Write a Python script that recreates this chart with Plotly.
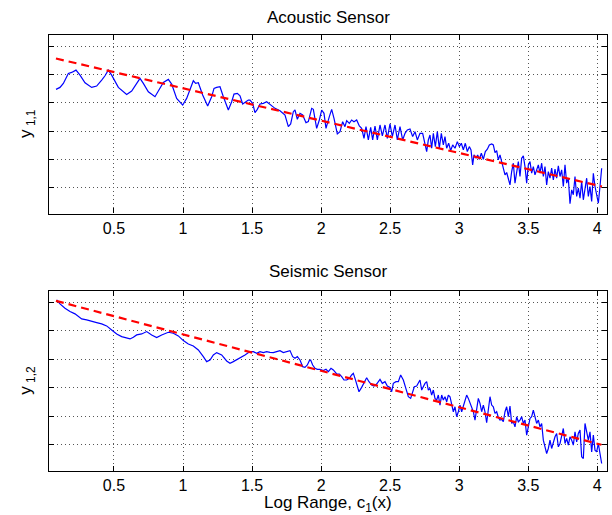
import plotly.graph_objects as go

# ---------------- data ----------------
# Acoustic sensor: log range vs. level (arbitrary units; the y axis is unlabeled)
top_x = [0.0804, 0.1093, 0.1335, 0.1697, 0.1938, 0.2252, 0.2542, 0.2904, 0.3386, 0.3748,
         0.4111, 0.4352, 0.4593, 0.4835, 0.5317, 0.5921, 0.6283, 0.6645, 0.6886, 0.7128,
         0.7490, 0.7972, 0.8335, 0.8576, 0.8938, 0.9179, 0.9541, 0.9976, 1.0265, 1.0555,
         1.0748, 1.0917, 1.1110, 1.1424, 1.1786, 1.2076, 1.2245, 1.2438, 1.2679, 1.2921,
         1.3283, 1.3524, 1.3693, 1.3934, 1.4128,
         1.4320, 1.4489, 1.4731, 1.4851, 1.5044, 1.5213, 1.5382, 1.5575, 1.5817, 1.6058,
         1.6300, 1.6662, 1.7024, 1.7386, 1.7627, 1.7796, 1.7989, 1.8110, 1.8279, 1.8472,
         1.8665, 1.8906, 1.9075, 1.9317, 1.9437, 1.9679, 1.9872, 2.0041, 2.0210, 2.0355,
         2.0596, 2.0765, 2.0934, 2.1175, 2.1368, 2.1561, 2.1730, 2.1851, 2.2044, 2.2213,
         2.2382, 2.2575, 2.2768, 2.2937, 2.3106, 2.3251, 2.3420, 2.3589, 2.3734, 2.3903,
         2.4072, 2.4265, 2.4434, 2.4627, 2.4796, 2.4989, 2.5158, 2.5351, 2.5520, 2.5713,
         2.5906, 2.6075, 2.6244, 2.6437, 2.6630, 2.6799, 2.6968, 2.7161,
         2.7354, 2.7523, 2.7644, 2.7765, 2.7885, 2.8006, 2.8127, 2.8272, 2.8416, 2.8561,
         2.8706, 2.8851, 2.8971, 2.9092, 2.9237, 2.9382, 2.9527, 2.9696, 2.9865, 3.0009,
         3.0154, 3.0299, 3.0444, 3.0589, 3.0733, 3.0854, 3.0975, 3.1071, 3.1216, 3.1337,
         3.1458, 3.1602, 3.1747, 3.1892, 3.2037, 3.2182, 3.2351, 3.2471, 3.2592, 3.2713,
         3.2833, 3.2954, 3.3075, 3.3195, 3.3316, 3.3437, 3.3558, 3.3678, 3.3799, 3.3920,
         3.4040, 3.4161, 3.4282, 3.4402, 3.4523, 3.4644, 3.4764, 3.4885, 3.5006, 3.5126,
         3.5247, 3.5368, 3.5488, 3.5609, 3.5730, 3.5851, 3.5971, 3.6092, 3.6213, 3.6333,
         3.6454, 3.6575, 3.6695, 3.6816, 3.6937, 3.7057, 3.7178, 3.7299, 3.7419, 3.7540,
         3.7661, 3.7781, 3.7902, 3.8023, 3.8144, 3.8264, 3.8385, 3.8506, 3.8626, 3.8747,
         3.8868, 3.8988, 3.9109, 3.9230, 3.9350, 3.9471, 3.9592, 3.9713, 3.9833, 3.9954,
         4.0075, 4.0195, 4.0316]
top_y = [3.72, 3.78, 3.90, 4.20, 4.23, 4.30, 4.15, 3.92, 3.78, 3.82,
         4.00, 4.13, 4.30, 4.15, 3.78, 3.57, 3.67, 3.90, 4.05, 3.90,
         3.65, 3.50, 3.75, 3.93, 4.02, 3.88, 3.45, 3.25, 3.45, 3.80,
         3.98, 3.90, 3.92, 3.55, 3.22, 3.50, 3.75, 3.78, 3.80, 3.50,
         3.10, 3.35, 3.58, 3.60, 3.53,
         3.28, 3.32, 3.40, 3.40, 3.30, 3.02, 3.12, 3.28, 3.30, 3.35,
         3.28, 3.15, 3.08, 2.95, 2.60, 2.68, 3.05, 3.10, 2.82, 3.00,
         2.95, 2.72, 2.75, 3.15, 3.12, 2.55, 2.80, 3.10, 3.00, 2.55,
         2.90, 3.12, 2.85, 2.38, 2.45, 2.75, 2.60, 2.78, 2.70, 2.80,
         2.75, 2.80, 2.62, 2.55, 2.25, 2.60, 2.20, 2.58, 2.20, 2.62,
         2.20, 2.65, 2.32, 2.65, 2.25, 2.68, 2.30, 2.65, 2.20, 2.60,
         2.20, 2.40, 2.50, 2.53, 2.30, 2.45, 2.20, 2.40,
         2.40, 2.10, 1.85, 2.20, 2.35, 1.95, 2.40, 2.00, 2.45, 1.95,
         2.40, 2.05, 2.30, 1.95, 2.10, 1.88, 2.05, 1.95, 2.15, 2.00,
         2.10, 1.90, 2.10, 1.85, 2.00, 1.90, 1.45, 1.75, 1.65, 1.75,
         1.62, 1.80, 1.62, 1.85, 1.92, 2.05, 2.08, 2.05, 1.82, 1.88,
         1.60, 1.75, 1.55, 1.40, 1.15, 1.22, 1.05, 0.85, 1.25, 1.50,
         0.90, 1.30, 1.55, 1.10, 1.65, 1.72, 1.40, 0.90, 1.45, 1.55,
         1.20, 1.40, 1.15, 1.30, 1.45, 1.20, 1.50, 1.10, 1.40, 0.85,
         1.25, 1.05, 1.35, 1.00, 1.32, 1.05, 1.42, 1.10, 1.30, 0.80,
         1.45, 0.90, 1.05, 0.28, 0.70, 0.55, 1.10, 0.50, 0.75, 0.45,
         0.95, 0.40, 0.80, 1.05, 0.50, 0.80, 0.35, 1.20, 0.80, 0.50,
         0.30, 0.80, 1.35]

# Seismic sensor
bottom_x = [0.0852, 0.1093, 0.1455, 0.1818, 0.2180, 0.2421, 0.2662, 0.3024, 0.3386, 0.3748,
            0.4111, 0.4473, 0.4835, 0.5197, 0.5559, 0.5921, 0.6162, 0.6404, 0.6645, 0.7007,
            0.7369, 0.7731, 0.8093, 0.8455, 0.8938, 0.9300, 0.9662, 1.0024, 1.0386, 1.0748,
            1.1110, 1.1472, 1.1714, 1.1955, 1.2197, 1.2438, 1.2800, 1.3162, 1.3404, 1.3645,
            1.3886, 1.4128,
            1.4489, 1.4851, 1.5093, 1.5334, 1.5575, 1.5817, 1.6058, 1.6300, 1.6541, 1.6782,
            1.7024, 1.7265, 1.7506, 1.7748, 1.7941, 1.8110, 1.8279, 1.8472, 1.8665, 1.8834,
            1.9003, 1.9148, 1.9244, 1.9389, 1.9558, 1.9727, 1.9920, 2.0161, 2.0355, 2.0524,
            2.0717, 2.0886, 2.1127, 2.1320, 2.1489, 2.1658, 2.1851, 2.2044, 2.2213, 2.2334,
            2.2454, 2.2575, 2.2744, 2.2937, 2.3106, 2.3299, 2.3468, 2.3661, 2.3830, 2.4023,
            2.4265, 2.4434, 2.4627, 2.4796, 2.4989, 2.5110, 2.5230, 2.5423, 2.5593, 2.5761,
            2.5954, 2.6148, 2.6317, 2.6486, 2.6630, 2.6751, 2.6920, 2.7089, 2.7161,
            2.7282, 2.7403, 2.7523, 2.7644, 2.7765, 2.7885, 2.8006, 2.8127, 2.8247, 2.8368,
            2.8489, 2.8609, 2.8730, 2.8851, 2.8971, 2.9092, 2.9213, 2.9334, 2.9454, 2.9575,
            2.9696, 2.9816, 2.9937, 3.0058, 3.0178, 3.0299, 3.0420, 3.0540, 3.0661, 3.0782,
            3.0902, 3.1023, 3.1144, 3.1265, 3.1385, 3.1506, 3.1627, 3.1747, 3.1868, 3.1989,
            3.2109, 3.2230, 3.2351, 3.2471, 3.2592, 3.2713, 3.2833, 3.2954, 3.3075, 3.3195,
            3.3316, 3.3437, 3.3558, 3.3678, 3.3799, 3.3920, 3.4040, 3.4161, 3.4282, 3.4402,
            3.4523, 3.4644, 3.4764, 3.4885, 3.5006, 3.5126, 3.5247, 3.5368, 3.5488, 3.5609,
            3.5730, 3.5851, 3.5971, 3.6092, 3.6213, 3.6333, 3.6454, 3.6575, 3.6695, 3.6816,
            3.6937, 3.7057, 3.7178, 3.7299, 3.7419, 3.7540, 3.7661, 3.7781, 3.7902, 3.8023,
            3.8144, 3.8264, 3.8385, 3.8506, 3.8626, 3.8747, 3.8868, 3.8988, 3.9109, 3.9230,
            3.9350, 3.9471, 3.9592, 3.9713, 3.9833, 3.9954, 4.0075, 4.0195, 4.0316]
bottom_y = [5.10, 4.98, 4.85, 4.75, 4.68, 4.60, 4.53, 4.50, 4.45, 4.42,
            4.38, 4.32, 4.20, 4.08, 4.00, 3.95, 3.93, 3.98, 4.05, 4.08,
            4.15, 4.05, 3.97, 4.05, 4.13, 4.10, 4.02, 3.88, 3.78, 3.72,
            3.60, 3.40, 3.25, 3.30, 3.45, 3.52, 3.45, 3.27, 3.20, 3.25,
            3.30, 3.35,
            3.45, 3.55, 3.55, 3.50, 3.55, 3.52, 3.55, 3.53, 3.52, 3.55,
            3.58, 3.52, 3.55, 3.58, 3.40, 3.35, 3.40, 3.30, 3.10, 3.08,
            3.15, 3.28, 3.30, 3.15, 3.05, 3.02, 3.02, 2.98, 3.02, 2.95,
            3.05, 3.00, 2.88, 2.88, 2.80, 2.70, 2.70, 2.75, 2.85, 2.90,
            2.75, 2.55, 2.35, 2.48, 2.60, 2.77, 2.65, 2.55, 2.52, 2.58,
            2.72, 2.60, 2.65, 2.52, 2.48, 2.35, 2.60, 2.65, 2.65, 2.85,
            2.70, 2.40, 2.20, 2.15, 2.32, 2.50, 2.52, 2.65, 2.70,
            2.40, 2.50, 2.60, 2.65, 2.40, 2.45, 2.25, 2.40, 2.15, 2.10,
            2.25, 1.95, 2.25, 2.10, 2.20, 2.05, 2.25, 2.20, 2.00, 1.75,
            1.90, 1.60, 1.75, 1.95, 1.75, 1.90, 2.10, 2.25, 2.15, 2.00,
            1.85, 1.75, 1.50, 1.85, 2.15, 2.00, 1.75, 1.95, 1.75, 1.42,
            1.75, 2.20, 1.95, 1.90, 1.70, 1.75, 1.58, 1.50, 1.52, 1.45,
            1.75, 1.90, 1.60, 1.92, 1.40, 1.45, 1.30, 1.60, 1.45, 1.50,
            1.60, 1.40, 1.50, 1.05, 1.30, 1.55, 1.60, 1.80, 1.60, 1.40,
            1.50, 1.30, 1.40, 0.90, 0.70, 0.50, 0.65, 0.90, 0.65, 0.85,
            1.00, 1.10, 0.70, 0.80, 1.00, 1.25, 0.80, 0.95, 0.75, 1.00,
            0.90, 0.75, 1.15, 0.85, 1.10, 1.20, 0.40, 0.35, 1.40, 1.10,
            0.90, 1.15, 0.55, 1.05, 0.60, 0.55, 0.80, 0.50, 0.20]

# straight-line fits (red dashed)
top_fit_x = [0.080, 4.034]
top_fit_y = [4.65, 0.80]
bottom_fit_x = [0.080, 4.030]
bottom_fit_y = [5.07, 0.76]

x_ticks = [0.5, 1, 1.5, 2, 2.5, 3, 3.5, 4]
x_tick_labels = ["0.5", "1", "1.5", "2", "2.5", "3", "3.5", "4"]
y_grid = [0.76, 1.612, 2.464, 3.316, 4.168, 5.02]

titles = ["Acoustic Sensor", "Seismic Sensor"]
y_labels = ["y\u2009<sub>1,1</sub>", "y\u2009<sub>1,2</sub>"]
x_label = "Log Range, c<sub>1</sub>(x)"

# ---------------- figure ----------------
FONT = "Liberation Sans, Arial, Helvetica, sans-serif"
fig = go.Figure()

blue = dict(color="#0000ff", width=1.2)
red = dict(color="#ff0000", width=2.2, dash="8px,5px")

fig.add_trace(go.Scatter(x=top_x, y=top_y, mode="lines", line=blue, xaxis="x", yaxis="y"))
fig.add_trace(go.Scatter(x=top_fit_x, y=top_fit_y, mode="lines", line=red, xaxis="x", yaxis="y"))
fig.add_trace(go.Scatter(x=bottom_x, y=bottom_y, mode="lines", line=blue, xaxis="x2", yaxis="y2"))
fig.add_trace(go.Scatter(x=bottom_fit_x, y=bottom_fit_y, mode="lines", line=red, xaxis="x2", yaxis="y2"))

ax = dict(showline=True, linecolor="black", linewidth=1.3, mirror="ticks",
          ticks="inside", ticklen=5, tickwidth=1, tickcolor="black",
          showgrid=True, gridcolor="#555555", griddash="1px,3px", gridwidth=1,
          zeroline=False)

xdom = [48.7 / 612, 607.3 / 612]
xr = [0.0275, 4.0724]
yr = [-0.015, 5.365]
tickfont = dict(family=FONT, size=16, color="black")

fig.update_layout(
    width=612, height=515,
    margin=dict(l=0, r=0, t=0, b=0),
    paper_bgcolor="white", plot_bgcolor="white",
    showlegend=False,
    font=dict(family=FONT, color="black"),
    xaxis=dict(**ax, domain=xdom, range=xr, tickvals=x_ticks, ticktext=x_tick_labels,
               anchor="y", tickfont=tickfont),
    yaxis=dict(**ax, domain=[1 - 213.6 / 515, 1 - 34.7 / 515], range=yr,
               tickvals=y_grid, showticklabels=False, anchor="x"),
    xaxis2=dict(**ax, domain=xdom, range=xr, tickvals=x_ticks, ticktext=x_tick_labels,
                anchor="y2", tickfont=tickfont),
    yaxis2=dict(**ax, domain=[1 - 470.7 / 515, 1 - 291 / 515], range=yr,
                tickvals=y_grid, showticklabels=False, anchor="x2"),
)

cx = (48.7 + 607.3) / 2 / 612
ann = [
    dict(text=titles[0], x=cx, y=1 - 17.5 / 515),
    dict(text=titles[1], x=cx, y=1 - 271 / 515),
    dict(text=x_label, x=cx, y=1 - 503.5 / 515),
    dict(text=y_labels[0], x=27 / 612, y=1 - 124 / 515, textangle=-90),
    dict(text=y_labels[1], x=27 / 612, y=1 - 380.8 / 515, textangle=-90),
]
for a in ann:
    fig.add_annotation(xref="paper", yref="paper", showarrow=False,
                       xanchor="center", yanchor="middle",
                       font=dict(family=FONT, size=17, color="black"), **a)

fig.write_html("out.html",
               config={"displayModeBar": False},
               post_script="document.body.style.margin='0';document.body.style.overflow='hidden';")
